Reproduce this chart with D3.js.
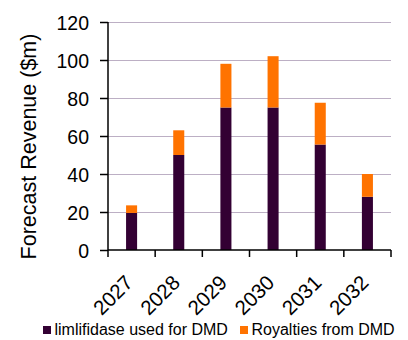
<!DOCTYPE html>
<html>
<head>
<meta charset="utf-8">
<script src="https://cdn.jsdelivr.net/npm/d3@7"></script>
<style>
  html, body { margin: 0; padding: 0; background: #fff; }
  svg { display: block; }
  svg text { font-family: "Liberation Sans", Arial, sans-serif; }
</style>
</head>
<body>
<svg id="chart" width="408" height="340"></svg>
<script>
// Forecast revenue by year ($m), stacked
const years = ["2027", "2028", "2029", "2030", "2031", "2032"];
const imlifidaseDMD = [19.5, 50, 75, 75, 55.5, 28];
const royaltiesDMD = [4, 13, 23, 27, 22, 12];
const yTicks = [0, 20, 40, 60, 80, 100, 120];
const seriesNames = ["limlifidase used for DMD", "Royalties from DMD"];
const seriesColors = ["#330033", "#FF7300"];

const FONT = "'Liberation Sans', Arial, sans-serif";
const svg = d3.select("#chart");
const margin = { left: 108, right: 17, top: 22, bottom: 90 };
const W = 408, H = 340;
const plotW = W - margin.left - margin.right;
const plotH = H - margin.top - margin.bottom;

const x = d3.scaleBand().domain(years).range([0, plotW]).paddingInner(0.766).paddingOuter(0.383);
const xEdge = d3.scaleLinear().domain([0, years.length]).range([0, plotW]);
const y = d3.scaleLinear().domain([0, 120]).range([plotH, 0]);

const g = svg.append("g").attr("transform", `translate(${margin.left},${margin.top})`);

// gridlines
g.append("g").selectAll("line").data(yTicks.filter(d => d > 0)).join("line")
  .attr("x1", 0).attr("x2", plotW)
  .attr("y1", d => y(d) + 0.5).attr("y2", d => y(d) + 0.5)
  .attr("stroke", "#BCAFC4").attr("stroke-width", 1.2);

// stacked bars
const rows = years.map((yr, i) => ({ year: yr, a: imlifidaseDMD[i], b: royaltiesDMD[i] }));
const stack = d3.stack().keys(["a", "b"])(rows);
g.append("g").selectAll("g").data(stack).join("g")
  .attr("fill", (d, i) => seriesColors[i])
  .selectAll("rect").data(d => d).join("rect")
  .attr("x", d => x(d.data.year))
  .attr("width", x.bandwidth())
  .attr("y", d => y(d[1]))
  .attr("height", d => y(d[0]) - y(d[1]));

// y axis
const yAxis = g.append("g").call(d3.axisLeft(y).tickValues(yTicks).tickSize(8).tickPadding(11));
yAxis.attr("font-family", FONT);
yAxis.select(".domain").attr("stroke", "#000").attr("stroke-width", 1.5).attr("d", `M0,${plotH}V0`);
yAxis.selectAll(".tick line").attr("stroke", "#000").attr("stroke-width", 1.5);
yAxis.selectAll("text").attr("font-size", 19.5).attr("fill", "#000").attr("dy", "0.36em");

// x axis with boundary ticks between categories
const xg = g.append("g").attr("transform", `translate(0,${plotH})`);
xg.append("line").attr("x1", 0).attr("x2", plotW).attr("stroke", "#000").attr("stroke-width", 1.5);
xg.selectAll(".edge").data(d3.range(years.length + 1)).join("line")
  .attr("class", "edge")
  .attr("x1", d => xEdge(d)).attr("x2", d => xEdge(d))
  .attr("y1", 0).attr("y2", 7)
  .attr("stroke", "#000").attr("stroke-width", 1.5);
xg.selectAll("text").data(years).join("text")
  .attr("transform", d => `translate(${x(d) + x.bandwidth() / 2 + 2.5},${34}) rotate(-45)`)
  .attr("text-anchor", "end")
  .attr("font-size", 20.5)
  .attr("fill", "#000")
  .text(d => d);

// y axis title
svg.append("text")
  .attr("transform", `translate(36,146.5) rotate(-90)`)
  .attr("text-anchor", "middle")
  .attr("font-size", 21.5)
  .attr("fill", "#000")
  .text("Forecast Revenue ($m)");

// legend
const legend = svg.append("g").attr("transform", "translate(43,326)");
const legX = [0, 197];
seriesNames.forEach((name, i) => {
  const lg = legend.append("g").attr("transform", `translate(${legX[i]},0)`);
  lg.append("rect").attr("width", 8).attr("height", 8).attr("fill", seriesColors[i]);
  lg.append("text").attr("x", 11.5).attr("y", 9).attr("font-size", 16).attr("fill", "#000").text(name);
});
</script>
</body>
</html>
